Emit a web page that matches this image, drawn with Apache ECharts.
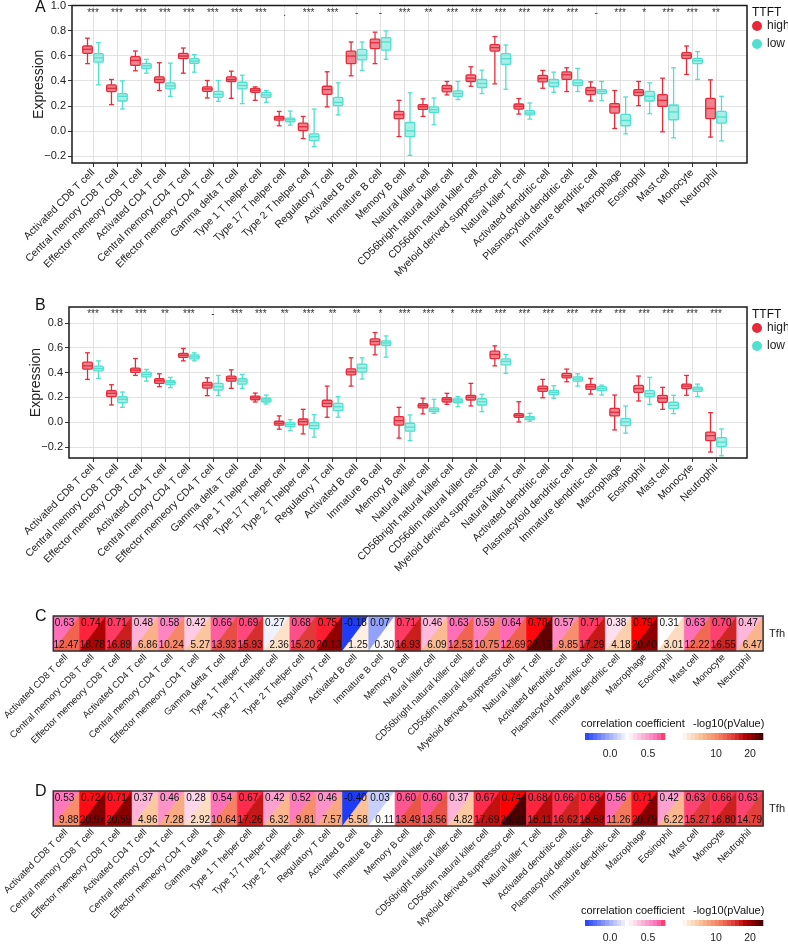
<!DOCTYPE html>
<html><head><meta charset="utf-8">
<script src="https://cdn.jsdelivr.net/npm/echarts@6/dist/echarts.min.js"></script>
<style>html,body{margin:0;padding:0;background:#fff}#c{width:788px;height:944px}</style>
</head><body><div id="c"></div>
<script>
const cells = ['Activated CD8 T cell','Central memory CD8 T cell','Effector memeory CD8 T cell','Activated CD4 T cell','Central memory CD4 T cell','Effector memeory CD4 T cell','Gamma delta T cell','Type 1 T helper cell','Type 17 T helper cell','Type 2 T helper cell','Regulatory T cell','Activated B cell','Immature B cell','Memory B cell','Natural killer cell','CD56bright natural killer cell','CD56dim natural killer cell','Myeloid derived suppressor cell','Natural killer T cell','Activated dendritic cell','Plasmacytoid dendritic cell','Immature dendritic cell','Macrophage','Eosinophil','Mast cell','Monocyte','Neutrophil'];

const sigA = ['***','***','***','***','***','***','***','***','.','***','***','-','-','***','**','***','***','***','***','***','***','-','***','*','***','***','**'];
const sigB = ['***','***','***','**','***','-','***','***','**','***','**','**','*','***','***','*','***','***','***','***','***','***','***','***','***','***','***'];

// box stats: [min, q1, median, q3, max]
const aHigh = [[0.534,0.616,0.648,0.674,0.736],[0.208,0.312,0.338,0.365,0.408],[0.477,0.52,0.56,0.589,0.634],[0.32,0.384,0.408,0.429,0.541],[0.458,0.573,0.594,0.616,0.658],[0.261,0.314,0.333,0.349,0.40],[0.258,0.392,0.408,0.429,0.474],[0.242,0.306,0.322,0.338,0.349],[0.04,0.085,0.101,0.114,0.154],[-0.062,0.002,0.032,0.061,0.114],[0.19,0.29,0.328,0.354,0.469],[0.437,0.534,0.594,0.634,0.706],[0.534,0.654,0.70,0.728,0.784],[-0.046,0.096,0.128,0.154,0.242],[0.114,0.17,0.192,0.208,0.254],[0.285,0.31,0.336,0.36,0.392],[0.354,0.392,0.418,0.445,0.509],[0.373,0.634,0.661,0.685,0.749],[0.133,0.173,0.194,0.213,0.256],[0.338,0.389,0.416,0.44,0.48],[0.312,0.408,0.445,0.469,0.501],[0.237,0.288,0.32,0.344,0.389],[0.018,0.141,0.19,0.216,0.32],[0.2,0.28,0.306,0.328,0.392],[-0.008,0.194,0.242,0.288,0.418],[0.448,0.576,0.60,0.621,0.674],[-0.05,0.096,0.178,0.258,0.405]];
const aLow = [[0.365,0.546,0.58,0.613,0.70],[0.173,0.237,0.274,0.296,0.397],[0.458,0.496,0.517,0.536,0.568],[0.274,0.333,0.357,0.381,0.538],[0.466,0.536,0.554,0.573,0.605],[0.234,0.266,0.29,0.314,0.40],[0.216,0.333,0.36,0.386,0.442],[0.226,0.266,0.285,0.306,0.32],[0.045,0.072,0.088,0.101,0.157],[-0.126,-0.078,-0.046,-0.024,0.173],[0.126,0.2,0.226,0.266,0.381],[0.48,0.563,0.60,0.648,0.706],[0.568,0.642,0.706,0.741,0.794],[-0.195,-0.046,0.0,0.066,0.302],[0.048,0.146,0.168,0.19,0.261],[0.248,0.274,0.296,0.317,0.392],[0.296,0.344,0.376,0.408,0.482],[0.33,0.528,0.573,0.613,0.682],[0.093,0.126,0.141,0.16,0.221],[0.306,0.352,0.381,0.408,0.466],[0.312,0.36,0.381,0.405,0.496],[0.24,0.296,0.312,0.328,0.392],[-0.024,0.04,0.082,0.13,0.269],[0.136,0.237,0.274,0.314,0.381],[-0.056,0.088,0.15,0.205,0.501],[0.408,0.534,0.557,0.576,0.63],[-0.08,0.061,0.11,0.154,0.274]];
const bHigh = [[0.345,0.428,0.454,0.484,0.559],[0.139,0.206,0.233,0.254,0.302],[0.377,0.401,0.42,0.436,0.513],[0.286,0.313,0.334,0.35,0.39],[0.494,0.522,0.54,0.554,0.594],[0.214,0.275,0.299,0.321,0.358],[0.273,0.331,0.353,0.372,0.422],[0.163,0.181,0.197,0.211,0.235],[-0.056,-0.024,-0.008,0.008,0.051],[-0.094,-0.022,0.005,0.026,0.104],[0.04,0.125,0.152,0.177,0.291],[0.291,0.382,0.406,0.43,0.519],[0.543,0.623,0.65,0.671,0.722],[-0.128,-0.024,0.013,0.045,0.12],[0.067,0.115,0.133,0.149,0.193],[0.144,0.163,0.181,0.197,0.233],[0.131,0.179,0.201,0.217,0.313],[0.454,0.513,0.546,0.572,0.615],[0.002,0.04,0.056,0.069,0.165],[0.197,0.249,0.27,0.291,0.345],[0.326,0.358,0.374,0.393,0.428],[0.227,0.265,0.286,0.305,0.353],[-0.062,0.051,0.08,0.112,0.219],[0.171,0.241,0.27,0.297,0.372],[0.104,0.161,0.193,0.217,0.281],[0.217,0.27,0.291,0.307,0.377],[-0.24,-0.148,-0.108,-0.08,0.077]];
const bLow = [[0.353,0.414,0.433,0.452,0.494],[0.12,0.157,0.185,0.206,0.243],[0.331,0.366,0.385,0.404,0.425],[0.278,0.305,0.321,0.334,0.361],[0.494,0.51,0.527,0.543,0.559],[0.214,0.259,0.286,0.313,0.377],[0.273,0.307,0.331,0.35,0.385],[0.147,0.163,0.179,0.193,0.219],[-0.067,-0.035,-0.019,-0.003,0.021],[-0.12,-0.051,-0.027,-0.003,0.061],[0.04,0.093,0.125,0.152,0.206],[0.348,0.404,0.436,0.468,0.519],[0.524,0.618,0.639,0.655,0.695],[-0.148,-0.072,-0.04,-0.008,0.059],[0.072,0.085,0.101,0.115,0.185],[0.125,0.157,0.171,0.187,0.206],[0.085,0.139,0.165,0.189,0.225],[0.393,0.462,0.49,0.51,0.546],[0.008,0.021,0.035,0.045,0.072],[0.193,0.222,0.241,0.257,0.294],[0.291,0.331,0.348,0.366,0.39],[0.219,0.254,0.27,0.286,0.299],[-0.088,-0.027,0.002,0.029,0.131],[0.144,0.206,0.23,0.254,0.361],[0.069,0.109,0.136,0.161,0.217],[0.206,0.249,0.267,0.283,0.307],[-0.27,-0.196,-0.16,-0.124,-0.054]];

const corrC = [0.63,0.74,0.71,0.48,0.58,0.42,0.66,0.69,0.27,0.68,0.75,-0.18,0.07,0.71,0.46,0.63,0.59,0.64,0.78,0.57,0.71,0.38,0.79,0.31,0.63,0.70,0.47];
const pC = [12.47,18.78,16.89,6.86,10.24,5.27,13.93,15.93,2.36,15.20,20.13,1.25,0.30,16.93,6.09,12.53,10.75,12.69,22.15,9.85,17.29,4.18,20.40,3.01,12.22,16.55,6.47];
const corrD = [0.53,0.72,0.71,0.37,0.46,0.28,0.54,0.67,0.42,0.52,0.46,-0.40,0.03,0.60,0.60,0.37,0.67,0.74,0.68,0.66,0.68,0.56,0.71,0.42,0.63,0.66,0.63];
const pD = [9.88,20.97,20.59,4.96,7.28,2.92,10.64,17.26,6.32,9.81,7.57,5.58,0.11,13.49,13.56,4.82,17.69,23.01,18.11,16.62,18.59,11.26,20.79,6.22,15.27,16.80,14.79];

const yTicksA = [-0.2,0,0.2,0.4,0.6,0.8,1.0];
const yTicksB = [-0.2,0,0.2,0.4,0.6,0.8];
const corrTicks = [0.0,0.5];
const pTicks = [10,20];

const FONT = '"Liberation Sans", Arial, Helvetica, sans-serif';
const RED = '#e62a3a', RED_FILL = 'rgba(230,42,58,0.58)';
const CYAN = '#4fe0cf', CYAN_FILL = 'rgba(79,224,207,0.5)';
const GRIDC = '#dadada';

function hex(h){return [parseInt(h.slice(1,3),16),parseInt(h.slice(3,5),16),parseInt(h.slice(5,7),16)];}
function mix(a,b,t){const A=hex(a),B=hex(b);return 'rgb('+A.map((x,k)=>Math.round(x+(B[k]-x)*t)).join(',')+')';}
function ramp(stops,v){
  if(v<=stops[0][0]) return mix(stops[0][1],stops[0][1],0);
  for(let k=1;k<stops.length;k++){
    if(v<=stops[k][0]){const t=(v-stops[k-1][0])/(stops[k][0]-stops[k-1][0]);return mix(stops[k-1][1],stops[k][1],t);}
  }
  const l=stops[stops.length-1][1]; return mix(l,l,0);
}
function corrStops(lo,hi){const mid=(lo+hi)/2;return [[lo,'#1e3cf8'],[mid,'#ffffff'],[mid+0.7*(hi-mid),'#ff69b4'],[hi,'#ff0000']];}
const pStops=[[0,'#ffffff'],[2,'#fde6d0'],[5,'#fbc8a0'],[7.5,'#f9a880'],[10,'#f78c6c'],[12.5,'#f06450'],[15,'#e23e3c'],[17.5,'#c41414'],[19,'#aa0000'],[21,'#820000'],[23,'#4c0000'],[24,'#400000']];

function boxSeries(ax,name,stats,offset,stroke,fill){
  return {type:'custom',name:name,xAxisIndex:ax,yAxisIndex:ax,itemStyle:{color:stroke},
    data:stats.map((s,i)=>[i].concat(s)),
    encode:{x:0,y:[1,2,3,4,5]},
    renderItem:function(params,api){
      const i=api.value(0);
      const x=api.coord([i,0])[0]+offset;
      const y=[1,2,3,4,5].map(k=>api.coord([i,api.value(k)])[1]);
      const hw=4.8,cw=2.4,lw=1.3;
      const st={stroke:stroke,lineWidth:lw};
      return {type:'group',children:[
        {type:'line',shape:{x1:x,y1:y[4],x2:x,y2:y[3]},style:st},
        {type:'line',shape:{x1:x,y1:y[1],x2:x,y2:y[0]},style:st},
        {type:'line',shape:{x1:x-cw,y1:y[4],x2:x+cw,y2:y[4]},style:st},
        {type:'line',shape:{x1:x-cw,y1:y[0],x2:x+cw,y2:y[0]},style:st},
        {type:'rect',shape:{x:x-hw,y:y[3],width:2*hw,height:y[1]-y[3],r:1.2},style:{fill:fill,stroke:stroke,lineWidth:lw}},
        {type:'line',shape:{x1:x-hw,y1:y[2],x2:x+hw,y2:y[2]},style:st}
      ]};
    }};
}
function sigSeries(ax,sig,yv){
  return {type:'custom',xAxisIndex:ax,yAxisIndex:ax,silent:true,
    data:sig.map((s,i)=>[i,yv]),
    renderItem:function(params,api){
      const p=api.coord([api.value(0),api.value(1)]);
      const s=sig[params.dataIndex];
      return {type:'text',style:{text:s,x:p[0],y:p[1],align:'center',verticalAlign:'middle',fontSize:10,fontFamily:FONT,fill:'#333'}};
    }};
}
function heatSeries(ax,corr,pv){
  const lo=Math.min.apply(null,corr),hi=Math.max.apply(null,corr);
  const cs=corrStops(lo,hi);
  return {type:'custom',xAxisIndex:ax,yAxisIndex:ax,silent:true,
    data:corr.map((r,i)=>[i,0,r,pv[i]]),
    encode:{x:0,y:1},
    renderItem:function(params,api){
      const i=api.value(0);
      const c=api.coord([i,0]),s=api.size([1,1]);
      const x0=c[0]-s[0]/2,x1=c[0]+s[0]/2,y0=c[1]-s[1]/2,y1=c[1]+s[1]/2;
      const r=api.value(2),p=api.value(3);
      const cf=ramp(cs,r),pf=ramp(pStops,p);
      return {type:'group',children:[
        {type:'polygon',shape:{points:[[x0,y0],[x1,y0],[x0,y1]]},style:{fill:cf,stroke:cf,lineWidth:0.6}},
        {type:'polygon',shape:{points:[[x1,y0],[x1,y1],[x0,y1]]},style:{fill:pf,stroke:pf,lineWidth:0.6}},
        {type:'text',style:{text:r.toFixed(2),x:x0+1.5,y:y0+2,align:'left',verticalAlign:'top',fontSize:10,fontFamily:FONT,fill:'#111'}},
        {type:'text',style:{text:p.toFixed(2),x:x1-1,y:y1-1,align:'right',verticalAlign:'bottom',fontSize:10,fontFamily:FONT,fill:'#111'}}
      ]};
    }};
}
function stripSeries(ax,lo,hi,n,colorFn){
  const step=(hi-lo)/n;const d=[];
  for(let k=0;k<n;k++) d.push([lo+step*(k+0.5),0.5]);
  return {type:'custom',xAxisIndex:ax,yAxisIndex:ax,silent:true,data:d,
    renderItem:function(params,api){
      const v=api.value(0);
      const a=api.coord([v-step/2,1]),b=api.coord([v+step/2,0]);
      const f=colorFn(v);
      return {type:'rect',shape:{x:a[0],y:a[1],width:b[0]-a[0]+0.3,height:b[1]-a[1]},style:{fill:f}};
    }};
}

function frameY(g,min,max,ticks){
  return {gridIndex:g,type:'value',min:min,max:max,
    axisLine:{show:false},
    axisTick:{show:true,length:4,lineStyle:{color:'#333'},customValues:ticks},
    axisLabel:{customValues:ticks,formatter:v=>(v<0?'\u2212':'')+Math.abs(v).toFixed(1),fontSize:11,color:'#222',margin:6,fontFamily:FONT},
    splitLine:{show:true,lineStyle:{color:GRIDC,width:0.8}},
    name:'Expression',nameLocation:'middle',nameGap:26,nameMoveOverlap:false,nameTextStyle:{fontSize:14,color:'#222',fontFamily:FONT}};
}
function catX(g){
  return {gridIndex:g,type:'category',data:cells,boundaryGap:false,
    axisLine:{show:false,onZero:false},
    axisTick:{show:true,length:4,interval:0,lineStyle:{color:'#333'}},
    axisLabel:{rotate:45,interval:0,fontSize:10.5,color:'#222',margin:8,fontFamily:FONT},
    splitLine:{show:true,interval:0,lineStyle:{color:GRIDC,width:0.8}}};
}
function heatX(g){
  return {gridIndex:g,type:'category',data:cells,boundaryGap:true,
    axisLine:{show:false,onZero:false},axisTick:{show:false},
    axisLabel:{rotate:45,interval:0,fontSize:9.5,color:'#222',margin:5,fontFamily:FONT},
    splitLine:{show:false}};
}
function heatY(g){
  return {gridIndex:g,type:'category',data:['Tfh'],position:'right',
    axisLine:{show:false},axisTick:{show:false},
    axisLabel:{fontSize:11,color:'#222',margin:6,fontFamily:FONT},splitLine:{show:false}};
}
function legX(g,min,max,ticks,margin){
  return {gridIndex:g,type:'value',min:min,max:max,
    axisLine:{show:false,onZero:false},axisTick:{show:false,customValues:ticks},splitLine:{show:false},
    axisLabel:{customValues:ticks,formatter:v=>Number.isInteger(v)&&max>5?String(v):v.toFixed(1),fontSize:10.5,color:'#222',margin:margin,fontFamily:FONT}};
}
function hidY(g,min,max){return {gridIndex:g,type:'value',min:min,max:max,show:false};}

const corrLeg = corrStops(-0.34,0.80);
const corrLegFn = v=>ramp(corrLeg,v);
const pLegFn = v=>ramp(pStops,v);

function txt(left,top,text,size){return {type:'text',left:left,top:top,style:{text:text,fontSize:size,fontFamily:FONT,fill:'#111'}};}

const chart = echarts.init(document.getElementById('c'));
chart.setOption({
  animation:false,
  backgroundColor:'#fff',
  grid:[
    {left:72,right:41,top:5,height:158,show:true,borderColor:'#1a1a1a',borderWidth:1.5,backgroundColor:'transparent',z:3},
    {left:93,right:72,top:5,height:158},
    {left:69,right:41,top:307,height:151,show:true,borderColor:'#1a1a1a',borderWidth:1.5,backgroundColor:'transparent',z:3},
    {left:93,right:72,top:307,height:151},
    {left:52,right:22,top:616,height:35,show:true,borderColor:'#333',borderWidth:1.5,backgroundColor:'transparent',z:5},
    {left:52,right:22,top:791,height:35,show:true,borderColor:'#333',borderWidth:1.5,backgroundColor:'transparent',z:5},
    {left:585,width:80,top:733,height:7},
    {left:683,width:80,top:733,height:7},
    {left:585,width:80,top:920,height:7},
    {left:683,width:80,top:920,height:7}
  ],
  xAxis:[
    {gridIndex:0,type:'value',min:0,max:1,show:false},
    catX(1),
    {gridIndex:2,type:'value',min:0,max:1,show:false},
    catX(3),
    heatX(4),heatX(5),
    legX(6,-0.329,0.724,corrTicks,9),
    legX(7,0.3,23.8,pTicks,9),
    legX(8,-0.329,0.724,corrTicks,7),
    legX(9,0.3,23.8,pTicks,7)
  ],
  yAxis:[
    frameY(0,-0.256,1.0,yTicksA),
    hidY(1,-0.256,1.0),
    frameY(2,-0.288,0.928,yTicksB),
    hidY(3,-0.288,0.928),
    heatY(4),heatY(5),
    hidY(6,0,1),hidY(7,0,1),hidY(8,0,1),hidY(9,0,1)
  ],
  legend:[
    {left:752,top:20,orient:'vertical',itemWidth:10,itemHeight:10,itemGap:6,padding:0,selectedMode:false,
      data:[{name:'high',icon:'circle'},{name:'low',icon:'circle'}],textStyle:{fontSize:12,color:'#222',fontFamily:FONT}},
    {left:752,top:322,orient:'vertical',itemWidth:10,itemHeight:10,itemGap:6,padding:0,selectedMode:false,
      data:[{name:'high',icon:'circle'},{name:'low',icon:'circle'}],textStyle:{fontSize:12,color:'#222',fontFamily:FONT}}
  ],
  graphic:[
    txt(35,0,'A',16),txt(35,298,'B',16),txt(35,609,'C',16),txt(35,784,'D',16),
    txt(752,7,'TTFT',12),txt(752,309,'TTFT',12),
    txt(581,718,'correlation coefficient',11),txt(693,718,'-log10(pValue)',11),
    txt(581,905,'correlation coefficient',11),txt(693,905,'-log10(pValue)',11)
  ],
  series:[
    boxSeries(1,'high',aHigh,-5.5,RED,RED_FILL),
    boxSeries(1,'low',aLow,5.5,CYAN,CYAN_FILL),
    boxSeries(3,'high',bHigh,-5.5,RED,RED_FILL),
    boxSeries(3,'low',bLow,5.5,CYAN,CYAN_FILL),
    sigSeries(1,sigA,0.936),
    sigSeries(3,sigB,0.867),
    heatSeries(4,corrC,pC),
    heatSeries(5,corrD,pD),
    stripSeries(6,-0.329,0.724,20,corrLegFn),
    stripSeries(7,0.3,23.8,20,pLegFn),
    stripSeries(8,-0.329,0.724,20,corrLegFn),
    stripSeries(9,0.3,23.8,20,pLegFn)
  ]
});
</script></body></html>
